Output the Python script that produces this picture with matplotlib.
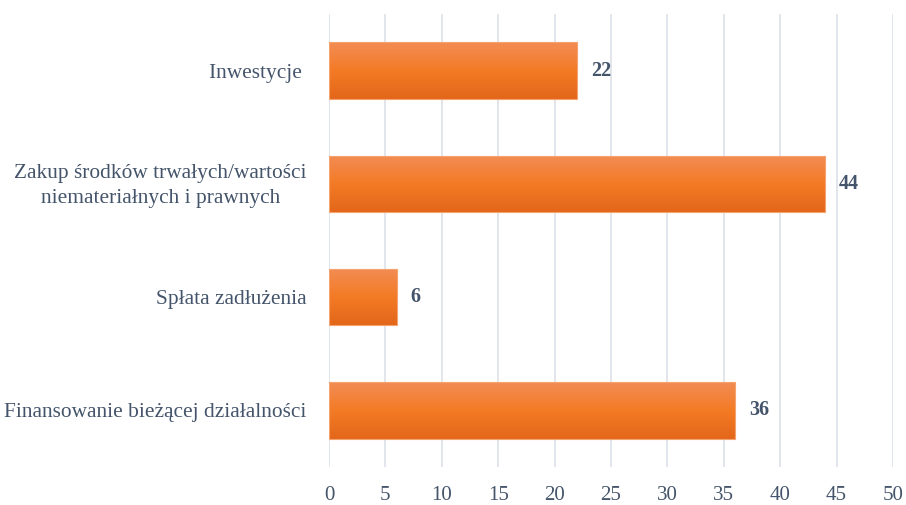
import matplotlib
matplotlib.use("Agg")
import matplotlib.pyplot as plt
import numpy as np
from matplotlib.colors import LinearSegmentedColormap

categories = ["Finansowanie bieżącej działalności", "Spłata zadłużenia",
              "Zakup środków trwałych/wartości\nniemateriałnych i prawnych", "Inwestycje "]
values = [36, 6, 44, 22]
xticks = [0, 5, 10, 15, 20, 25, 30, 35, 40, 45, 50]

TEXT = "#44546A"
GRID = "#DEE3EA"
FONT = "Liberation Serif"

fig = plt.figure(figsize=(9.06, 5.05), dpi=100)
ax = fig.add_axes([329/906, 1-467/505, (893-329)/906, (467-14)/505])

cmap = LinearSegmentedColormap.from_list("g", ["#E3661A", "#F47B25", "#F28C55"])
grad = np.linspace(0, 1, 256).reshape(-1, 1)

y = np.arange(len(categories))
bars = ax.barh(y, values, height=0.5, color="none", edgecolor="#F5A36E", linewidth=0.8, zorder=3)
for b in bars:
    x0, y0 = b.get_x(), b.get_y()
    w, h = b.get_width(), b.get_height()
    im = ax.imshow(grad, extent=[x0, x0 + w, y0, y0 + h], origin="lower",
                   cmap=cmap, aspect="auto", zorder=2)
    im.set_clip_path(b)

for yi, v in zip(y, values):
    ax.annotate(str(v), (v, yi), xytext=(10, 0), textcoords="offset points",
                va="center", ha="left", fontsize=14.5, fontweight="bold",
                color=TEXT, family=FONT)

ax.set_xlim(0, 50)
ax.set_ylim(-0.5, len(categories) - 0.5)
ax.set_xticks(xticks)
ax.set_xticklabels([str(t) for t in xticks])
ax.set_yticks(y)
ax.set_yticklabels(categories, multialignment="center")
ax.xaxis.grid(True, color=GRID, linewidth=1.3, zorder=0)
ax.set_axisbelow(True)
for s in ax.spines.values():
    s.set_visible(False)
ax.tick_params(axis="x", length=0, colors=TEXT, labelsize=15, pad=14)
ax.tick_params(axis="y", length=0, colors=TEXT, labelsize=15.4, pad=16)
for lab in ax.get_xticklabels() + ax.get_yticklabels():
    lab.set_family(FONT)
    lab.set_color(TEXT)
for lab in ax.get_yticklabels():
    lab.set_linespacing(1.4)
    lab.set_y(lab.get_position()[1])
labs = ax.get_yticklabels()
labs[2].set_transform(labs[2].get_transform() + matplotlib.transforms.ScaledTranslation(0, 3/100, fig.dpi_scale_trans))

fig.savefig("out.png", dpi=100)
